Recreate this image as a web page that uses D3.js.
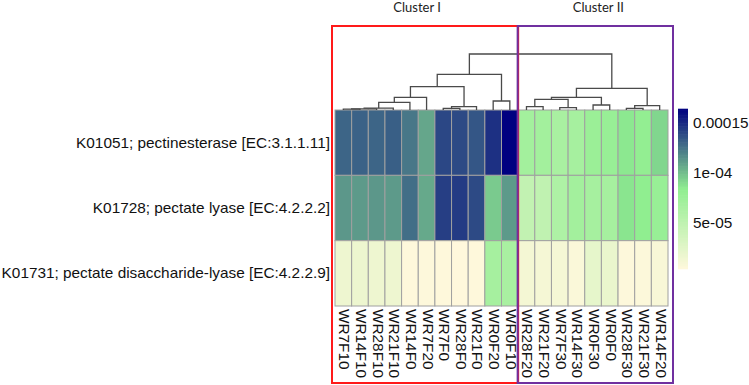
<!DOCTYPE html>
<html>
<head>
<meta charset="utf-8">
<script src="https://cdn.jsdelivr.net/npm/d3@7"></script>
<style>
  html, body { margin: 0; padding: 0; background: #fff; }
  svg { display: block; }
</style>
</head>
<body>
<svg id="chart" width="749" height="385"></svg>
<script>
// ---------------- DATA ----------------
const columns = ["WR7F10","WR14F10","WR28F10","WR21F10","WR14F0","WR7F20","WR7F0","WR28F0","WR21F0","WR0F20","WR0F10",
                 "WR28F20","WR21F20","WR7F30","WR14F30","WR0F30","WR0F0","WR28F30","WR21F30","WR14F20"];
const rows = ["K01051; pectinesterase [EC:3.1.1.11]",
              "K01728; pectate lyase [EC:4.2.2.2]",
              "K01731; pectate disaccharide-lyase [EC:4.2.2.9]"];
const pectinesterase = [1.30e-4,1.31e-4,1.30e-4,1.32e-4,1.24e-4,1.08e-4,1.40e-4,1.39e-4,1.35e-4,1.48e-4,1.64e-4,
                        7.0e-5,7.0e-5,6.6e-5,6.8e-5,7.6e-5,7.8e-5,8.6e-5,8.2e-5,9.2e-5];
const pectateLyase   = [1.13e-4,1.12e-4,1.13e-4,1.12e-4,1.27e-4,1.07e-4,1.43e-4,1.44e-4,1.39e-4,9.6e-5,1.12e-4,
                        4.8e-5,4.9e-5,6.2e-5,7.0e-5,6.8e-5,6.8e-5,8.7e-5,8.4e-5,7.8e-5];
const disaccharideLyase = [1.6e-5,1.7e-5,1.6e-5,1.6e-5,4.5e-6,5.0e-6,4.5e-6,4.0e-6,4.5e-6,6.8e-5,6.6e-5,
                           1.2e-5,1.1e-5,1.1e-5,7.0e-6,2.2e-5,1.9e-5,5.0e-6,6.0e-6,9.0e-6];
const seriesValues = [pectinesterase, pectateLyase, disaccharideLyase];
const valueMin = 3.7e-6, valueMax = 1.64e-4;
const legendTicks = [5e-5, 1e-4, 1.5e-4];
const legendTickLabels = ["5e-05", "1e-04", "0.00015"];
const clusterNames = ["Cluster I", "Cluster II"];
const clusterMembers = [columns.slice(0, 11), columns.slice(11)];
// column dendrogram: [left, right, merge height]
const dendrogram =
  [[[[[[[["WR7F10","WR14F10",0.8],"WR28F10",1.2],"WR21F10",1.8],"WR14F0",7.7],"WR7F20",12.7],
       [["WR7F0","WR28F0",1.7],"WR21F0",3.3],23.3],
     ["WR0F20","WR0F10",9],35.7],
   [[[["WR28F20","WR21F20",3.3],["WR7F30","WR14F30",2.3],10.7],["WR0F30","WR0F0",5],12.7],
     [["WR28F30","WR21F30",1.7],"WR14F20",4.3],21.7],
   56];

// ---------------- LAYOUT ----------------
const svg = d3.select("#chart");
const heatLeft = 335, heatRight = 668, heatTop = 110, heatBottom = 306;
const x = d3.scaleBand().domain(columns).range([heatLeft, heatRight]);
const y = d3.scaleBand().domain(rows).range([heatTop, heatBottom]);
const color = d3.scaleLinear()
  .domain([valueMin, (valueMin + valueMax) / 2, valueMax])
  .range(["#FFF8DC", "#90EE90", "#000080"])
  .interpolate(d3.interpolateRgb);
const FONT = "'Liberation Sans', Arial, sans-serif";
const FS = "15.35px";

// cells
const cells = [];
rows.forEach((r, i) => columns.forEach((c, j) => cells.push({r, c, v: seriesValues[i][j]})));
svg.append("g").selectAll("rect").data(cells).join("rect")
  .attr("x", d => x(d.c)).attr("y", d => y(d.r))
  .attr("width", x.bandwidth()).attr("height", y.bandwidth())
  .attr("fill", d => color(d.v))
  .attr("stroke", "#a0a0a0").attr("stroke-width", 1);

// row labels
svg.append("g").selectAll("text").data(rows).join("text")
  .attr("x", 330).attr("y", d => y(d) + y.bandwidth() / 2 + 1)
  .attr("text-anchor", "end").attr("dominant-baseline", "middle")
  .attr("font-family", FONT).attr("font-size", FS).attr("fill", "#111")
  .text(d => d);

// column labels
svg.append("g").selectAll("text").data(columns).join("text")
  .attr("transform", d => `translate(${x(d) + x.bandwidth() / 2},309) rotate(90)`)
  .attr("text-anchor", "start").attr("dominant-baseline", "middle")
  .attr("font-family", FONT).attr("font-size", FS).attr("fill", "#111")
  .text(d => d);

// dendrogram
const hScale = d3.scaleLinear().domain([0, 56]).range([heatTop, 54]);
const dg = svg.append("g").attr("fill", "none").attr("stroke", "#4a4a4a").attr("stroke-width", 1.3);
function layout(node) {
  if (typeof node === "string") return {x: x(node) + x.bandwidth() / 2, y: hScale(0)};
  const a = layout(node[0]), b = layout(node[1]);
  const ny = hScale(node[2]);
  dg.append("path").attr("d", `M${a.x},${a.y}V${ny}H${b.x}V${b.y}`);
  return {x: (a.x + b.x) / 2, y: ny};
}
layout(dendrogram);

// legend
const ly = d3.scaleLinear().domain([valueMin, valueMax]).range([269, 109]);
const steps = d3.range(0, 100).map(i => valueMin + (valueMax - valueMin) * i / 100);
const stepH = (269 - 109) / 100;
svg.append("g").selectAll("rect").data(steps).join("rect")
  .attr("x", 678).attr("width", 10)
  .attr("y", d => ly(d) - stepH - 0.3).attr("height", stepH + 0.6)
  .attr("fill", d => color(d + (valueMax - valueMin) / 200));
svg.append("g").selectAll("text").data(legendTicks).join("text")
  .attr("x", 693).attr("y", d => ly(d) + 1)
  .attr("dominant-baseline", "middle")
  .attr("font-family", FONT).attr("font-size", FS).attr("fill", "#111")
  .text((d, i) => legendTickLabels[i]);

// cluster boxes
const boxColors = ["#ff1a1a", "#7030a0"];
const boxTop = 26, boxBottom = 383;
clusterMembers.forEach((mem, k) => {
  const x0 = k === 0 ? 332 : x(mem[0]) - 0.5;
  const x1 = k === 0 ? x(mem[mem.length - 1]) + x.bandwidth() : 673;
  svg.append("rect").attr("x", x0).attr("y", boxTop)
    .attr("width", x1 - x0).attr("height", boxBottom - boxTop)
    .attr("fill", "none").attr("stroke", boxColors[k]).attr("stroke-width", 2);
  svg.append("text").attr("x", (x0 + x1) / 2 - (k === 0 ? 8 : -3)).attr("y", 12)
    .attr("text-anchor", "middle")
    .attr("font-family", "Lato, 'Open Sans', sans-serif").attr("font-size", "13px").attr("fill", "#222")
    .text(clusterNames[k]);
});
</script>
</body>
</html>
